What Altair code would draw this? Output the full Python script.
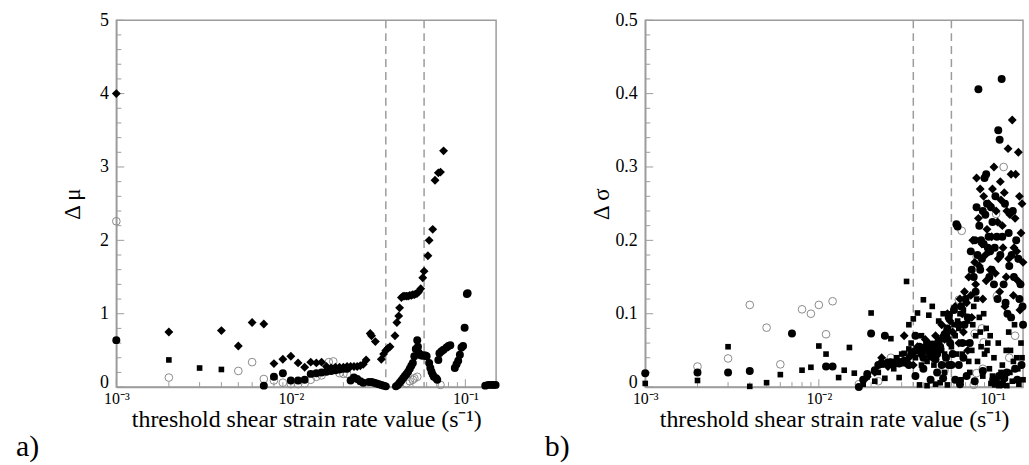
import altair as alt
import pandas as pd

# ---------------- panel a data (threshold, delta mu) ----------------
a_circ_x = [0.001, 0.007, 0.008, 0.009, 0.010, 0.011, 0.012, 0.013, 0.014, 0.015, 0.016, 0.017, 0.018, 0.019,
            0.020, 0.021, 0.022, 0.023, 0.024, 0.025, 0.026, 0.028, 0.029, 0.030, 0.031, 0.032, 0.033, 0.034,
            0.035, 0.040, 0.041, 0.042, 0.043, 0.044, 0.045, 0.046, 0.047, 0.048, 0.049, 0.050, 0.051, 0.052,
            0.053, 0.0535, 0.054, 0.055, 0.056, 0.057, 0.058, 0.059, 0.060, 0.062, 0.063, 0.064, 0.065, 0.066,
            0.068, 0.069, 0.070, 0.071, 0.073, 0.075, 0.078, 0.080, 0.082, 0.087, 0.089, 0.091, 0.093, 0.095,
            0.097, 0.099, 0.102, 0.103, 0.130, 0.135, 0.140, 0.145, 0.149]
a_circ_y = [0.64, 0.02, 0.14, 0.19, 0.09, 0.09, 0.10, 0.18, 0.19, 0.20, 0.21, 0.22, 0.23, 0.24,
            0.25, 0.25, 0.09, 0.13, 0.11, 0.08, 0.06, 0.07, 0.07, 0.06, 0.05, 0.04, 0.03, 0.02,
            0.01, 0.01, 0.03, 0.06, 0.09, 0.12, 0.15, 0.18, 0.21, 0.25, 0.29, 0.33, 0.42, 0.52,
            0.64, 0.55, 0.47, 0.44, 0.43, 0.43, 0.43, 0.43, 0.42, 0.33, 0.26, 0.21, 0.17, 0.14,
            0.12, 0.10, 0.37, 0.46, 0.49, 0.51, 0.54, 0.56, 0.57, 0.26, 0.31, 0.36, 0.44, 0.54,
            0.56, 0.81, 1.27, 1.28, 0.02, 0.03, 0.03, 0.03, 0.03]

a_diam_x = [0.001, 0.002, 0.004, 0.005, 0.006, 0.007, 0.008, 0.009, 0.010, 0.011, 0.012, 0.013, 0.014, 0.015,
            0.016, 0.017, 0.018, 0.019, 0.020, 0.021, 0.022, 0.023, 0.024, 0.025, 0.026, 0.027, 0.0285, 0.029,
            0.0305, 0.033, 0.034, 0.035, 0.036, 0.037, 0.0395, 0.0405, 0.0415, 0.042, 0.043, 0.044, 0.045,
            0.046, 0.047, 0.048, 0.049, 0.050, 0.051, 0.052, 0.053, 0.054, 0.0555, 0.057, 0.058, 0.061, 0.062,
            0.065, 0.067, 0.070, 0.072, 0.075]
a_diam_y = [4.00, 0.75, 0.77, 0.56, 0.88, 0.86, 0.32, 0.38, 0.42, 0.33, 0.27, 0.34, 0.33, 0.34,
            0.28, 0.26, 0.27, 0.27, 0.27, 0.28, 0.28, 0.28, 0.28, 0.29, 0.31, 0.37, 0.73, 0.70,
            0.62, 0.38, 0.45, 0.50, 0.53, 0.55, 0.70, 0.88, 0.97, 1.08, 1.22, 1.24, 1.24,
            1.24, 1.24, 1.25, 1.25, 1.26, 1.26, 1.27, 1.28, 1.30, 1.34, 1.49, 1.58, 1.79, 2.00,
            2.15, 2.82, 2.92, 2.93, 3.22]

a_sq_x = [0.002, 0.003, 0.004]
a_sq_y = [0.37, 0.26, 0.24]

a_open_x = [0.001, 0.002, 0.005, 0.006, 0.007, 0.008, 0.009, 0.010, 0.011, 0.012, 0.013, 0.014, 0.015,
            0.0165, 0.0175, 0.019, 0.020, 0.021, 0.046, 0.048, 0.050, 0.051, 0.053, 0.072]
a_open_y = [2.26, 0.13, 0.22, 0.34, 0.11, 0.09, 0.06, 0.04, 0.04, 0.05, 0.10, 0.14, 0.16,
            0.34, 0.35, 0.19, 0.18, 0.18, 0.05, 0.08, 0.10, 0.12, 0.14, 0.03]

# ---------------- panel b data (threshold, delta sigma) ----------------
b_sq_x = [0.001, 0.002, 0.003, 0.004, 0.005, 0.006, 0.008, 0.009, 0.010, 0.011, 0.013, 0.014, 0.015, 0.016,
          0.018, 0.019, 0.020, 0.021, 0.022, 0.023, 0.024, 0.025, 0.026, 0.027, 0.028, 0.029, 0.030, 0.031,
          0.032, 0.033, 0.034, 0.035, 0.036, 0.037, 0.038, 0.039, 0.040, 0.041, 0.042, 0.043, 0.044, 0.045,
          0.046, 0.047, 0.048, 0.049, 0.050, 0.051, 0.052, 0.053, 0.054, 0.055, 0.056, 0.057, 0.058, 0.060,
          0.062, 0.064, 0.066, 0.068, 0.070, 0.072, 0.074, 0.076, 0.078, 0.080, 0.082, 0.084, 0.086, 0.088,
          0.090, 0.092, 0.094, 0.096, 0.098, 0.100, 0.103, 0.106, 0.109, 0.112, 0.115, 0.118, 0.121, 0.124,
          0.127, 0.130, 0.134, 0.138, 0.142, 0.146, 0.150]
b_sq_y = [0.005, 0.009, 0.055, 0.001, 0.006, 0.017, 0.023, 0.027, 0.056, 0.045, 0.013, 0.023, 0.054, 0.019,
          0.004, 0.014, 0.101, 0.008, 0.020, 0.030, 0.012, 0.035, 0.066, 0.025, 0.040, 0.013, 0.032, 0.046,
          0.144, 0.085, 0.060, 0.093, 0.050, 0.101, 0.003, 0.070, 0.119, 0.055, 0.002, 0.098, 0.045, 0.110,
          0.030, 0.004, 0.060, 0.090, 0.006, 0.050, 0.100, 0.020, 0.075, 0.003, 0.065, 0.100, 0.030, 0.085,
          0.045, 0.080, 0.010, 0.105, 0.060, 0.090, 0.020, 0.050, 0.110, 0.070, 0.035, 0.095, 0.055, 0.015,
          0.045, 0.080, 0.060, 0.025, 0.005, 0.015, 0.003, 0.010, 0.002, 0.020, 0.005, 0.012, 0.002, 0.075,
          0.050, 0.008, 0.085, 0.040, 0.004, 0.060, 0.010]
b_sq2_x = [0.030, 0.033, 0.036, 0.039, 0.042, 0.045, 0.047, 0.050, 0.053, 0.055, 0.058, 0.061, 0.063, 0.065,
           0.067, 0.069, 0.073, 0.077, 0.081, 0.085, 0.089, 0.093, 0.097, 0.102, 0.108, 0.114, 0.120, 0.126,
           0.132, 0.140, 0.148]
b_sq2_y = [0.045, 0.052, 0.040, 0.030, 0.035, 0.055, 0.040, 0.065, 0.045, 0.070, 0.055, 0.070, 0.090, 0.100,
           0.045, 0.085, 0.035, 0.085, 0.120, 0.075, 0.100, 0.050, 0.070, 0.040, 0.060, 0.030, 0.050, 0.020,
           0.035, 0.025, 0.040]

b_circ_x = [0.001, 0.002, 0.003, 0.004, 0.007, 0.011, 0.012, 0.017, 0.018, 0.019, 0.020, 0.021, 0.022, 0.023,
            0.024, 0.025, 0.026, 0.027, 0.028, 0.029, 0.030, 0.031, 0.032, 0.033, 0.034, 0.035, 0.036, 0.037,
            0.038, 0.039, 0.040, 0.041, 0.042, 0.043, 0.044, 0.045, 0.046, 0.047, 0.048, 0.049, 0.050, 0.051,
            0.052, 0.053, 0.054, 0.055, 0.056, 0.057, 0.058, 0.060, 0.062, 0.063, 0.064, 0.066, 0.068, 0.070,
            0.072, 0.074, 0.076, 0.078, 0.080, 0.082, 0.083, 0.084, 0.086, 0.088, 0.090, 0.092, 0.094, 0.096,
            0.098, 0.100, 0.103, 0.106, 0.108, 0.110, 0.113, 0.116, 0.119, 0.122, 0.125, 0.128, 0.131, 0.135,
            0.139, 0.143, 0.147, 0.150, 0.101, 0.105, 0.109, 0.113, 0.117, 0.121, 0.061, 0.065, 0.071, 0.079,
            0.088]
b_circ_y = [0.019, 0.020, 0.020, 0.022, 0.073, 0.028, 0.028, 0.000, 0.010, 0.018, 0.073, 0.023, 0.030, 0.033,
            0.070, 0.033, 0.034, 0.033, 0.035, 0.032, 0.034, 0.036, 0.033, 0.030, 0.045, 0.048, 0.070, 0.050,
            0.055, 0.045, 0.040, 0.052, 0.060, 0.048, 0.042, 0.058, 0.050, 0.038, 0.045, 0.062, 0.055, 0.030,
            0.068, 0.072, 0.040, 0.080, 0.095, 0.060, 0.030, 0.105, 0.222, 0.219, 0.085, 0.110, 0.040, 0.120,
            0.095, 0.060, 0.160, 0.150, 0.130, 0.180, 0.406, 0.220, 0.200, 0.240, 0.285, 0.290, 0.190, 0.150,
            0.245, 0.225, 0.190, 0.205, 0.350, 0.337, 0.420, 0.140, 0.115, 0.100, 0.165, 0.095, 0.240, 0.025,
            0.010, 0.120, 0.030, 0.085, 0.010, 0.006, 0.015, 0.004, 0.012, 0.020, 0.010, 0.004, 0.015, 0.008,
            0.022]
b_circ2_x = [0.075, 0.079, 0.081, 0.085, 0.087, 0.089, 0.091, 0.093, 0.095, 0.097, 0.099, 0.102, 0.104, 0.107,
             0.111, 0.114, 0.118, 0.124, 0.129, 0.133, 0.137, 0.141, 0.145, 0.149, 0.036, 0.040, 0.044, 0.048,
             0.052, 0.056, 0.059, 0.064, 0.067, 0.069]
b_circ2_y = [0.185, 0.200, 0.245, 0.160, 0.175, 0.195, 0.235, 0.250, 0.205, 0.185, 0.160, 0.140, 0.260, 0.120,
             0.180, 0.205, 0.250, 0.210, 0.180, 0.150, 0.200, 0.175, 0.140, 0.110, 0.015, 0.025, 0.010, 0.020,
             0.012, 0.030, 0.045, 0.030, 0.060, 0.085]

b_diam_x = [0.019, 0.021, 0.023, 0.025, 0.027, 0.029, 0.031, 0.033, 0.035, 0.037, 0.039, 0.041, 0.043, 0.045,
            0.047, 0.049, 0.051, 0.053, 0.055, 0.057, 0.059, 0.061, 0.063, 0.065, 0.067, 0.069, 0.071, 0.073,
            0.075, 0.077, 0.079, 0.081, 0.083, 0.085, 0.087, 0.089, 0.091, 0.093, 0.095, 0.097, 0.099, 0.102,
            0.105, 0.108, 0.111, 0.114, 0.117, 0.120, 0.123, 0.126, 0.130, 0.133, 0.136, 0.140, 0.143, 0.146,
            0.150]
b_diam_y = [0.014, 0.020, 0.040, 0.028, 0.030, 0.035, 0.070, 0.040, 0.030, 0.055, 0.048, 0.065, 0.058, 0.040,
            0.070, 0.055, 0.085, 0.065, 0.100, 0.090, 0.075, 0.110, 0.085, 0.120, 0.100, 0.130, 0.115, 0.150,
            0.125, 0.200, 0.170, 0.285, 0.230, 0.270, 0.195, 0.260, 0.180, 0.215, 0.250, 0.160, 0.205, 0.300,
            0.240, 0.175, 0.280, 0.220, 0.265, 0.150, 0.325, 0.235, 0.364, 0.190, 0.290, 0.145, 0.260, 0.210,
            0.170]
b_diam2_x = [0.076, 0.080, 0.084, 0.088, 0.092, 0.096, 0.100, 0.104, 0.107, 0.110, 0.112, 0.115, 0.118, 0.121,
             0.124, 0.128, 0.132, 0.135, 0.138, 0.141, 0.144, 0.148, 0.064, 0.068, 0.072]
b_diam2_y = [0.095, 0.140, 0.165, 0.120, 0.145, 0.185, 0.270, 0.155, 0.225, 0.130, 0.255, 0.190, 0.110, 0.240,
             0.175, 0.290, 0.125, 0.230, 0.185, 0.320, 0.105, 0.250, 0.060, 0.075, 0.050]

b_open_x = [0.002, 0.003, 0.004, 0.005, 0.006, 0.008, 0.009, 0.010, 0.011, 0.012, 0.017, 0.022, 0.026, 0.053,
            0.058, 0.064, 0.0665, 0.078, 0.079, 0.081, 0.081, 0.087, 0.088, 0.089, 0.105, 0.106, 0.116, 0.125,
            0.135]
b_open_y = [0.028, 0.039, 0.112, 0.081, 0.031, 0.106, 0.100, 0.112, 0.072, 0.117, 0.004, 0.008, 0.040, 0.023,
            0.073, 0.119, 0.213, 0.003, 0.073, 0.019, 0.178, 0.080, 0.025, 0.061, 0.236, 0.124, 0.300, 0.040,
            0.070]

x_major = [0.001, 0.01, 0.1]
x_minor = [0.002, 0.003, 0.004, 0.005, 0.006, 0.007, 0.008, 0.009,
           0.02, 0.03, 0.04, 0.05, 0.06, 0.07, 0.08, 0.09]
dash_x = [0.035, 0.058]

a_y_major = [0, 1, 2, 3, 4, 5]
a_y_minor = [0.2, 0.4, 0.6, 0.8, 1.2, 1.4, 1.6, 1.8, 2.2, 2.4, 2.6, 2.8, 3.2, 3.4, 3.6, 3.8, 4.2, 4.4, 4.6, 4.8]
b_y_major = [0, 0.1, 0.2, 0.3, 0.4, 0.5]
b_y_minor = [0.02, 0.04, 0.06, 0.08, 0.12, 0.14, 0.16, 0.18, 0.22, 0.24, 0.26, 0.28,
             0.32, 0.34, 0.36, 0.38, 0.42, 0.44, 0.46, 0.48]

# ---------------- styling ----------------
H = 369
FONT = "Liberation Serif"
GRAY = "#9c9c9c"
XLABEL = "threshold shear strain rate value (s\u207b\u00b9)"


def make_panel(width, ymax, ytitle, yfmt, series, y_major, y_minor, tag):
    xs = alt.Scale(type="log", domain=[0.001, 0.15], nice=False)
    ys = alt.Scale(domain=[0, ymax], nice=False, zero=True)
    xaxis = alt.Axis(values=x_major, ticks=False, tickSize=0, grid=False, labelFlush=False,
                     labelExpr="datum.value < 0.005 ? '10\u207b\u00b3' : (datum.value < 0.05 ? '10\u207b\u00b2' : '10\u207b\u00b9')",
                     labelFontSize=16, labelPadding=4, title=XLABEL, titleFontSize=24,
                     titleY=40, titleBaseline="alphabetic")
    yaxis = alt.Axis(values=y_major, ticks=False, tickSize=0, grid=False, labelFlush=False,
                     labelExpr=yfmt, labelPadding=8, title=ytitle, titleX=-44, titleY=H / 2,
                     titleBaseline="middle", titleAngle=270,
                     labelOffset={"condition": {"test": "datum.value == 0", "value": -5}, "value": 0})

    layers = []
    for xv, yv, kind in series:
        df = pd.DataFrame({"x": xv, "y": yv})
        base = alt.Chart(df)
        if kind == "circle":
            m = base.mark_point(shape="circle", filled=True, color="black", size=64, opacity=1)
        elif kind == "diamond":
            m = base.mark_point(shape="diamond", filled=True, color="black", size=80, opacity=1)
        elif kind == "square":
            m = base.mark_point(shape="square", filled=True, color="black", size=32, opacity=1)
        else:
            m = base.mark_point(shape="circle", filled=False, color="#8a8a8a", size=60,
                                strokeWidth=1, opacity=1)
        layers.append(m.encode(x=alt.X("x:Q", scale=xs, axis=xaxis),
                               y=alt.Y("y:Q", scale=ys, axis=yaxis)))

    dash = alt.Chart(pd.DataFrame({"x": dash_x})).mark_rule(
        color=GRAY, strokeDash=[8, 5], strokeWidth=1.5).encode(
        x=alt.X("x:Q", scale=xs, axis=xaxis), y=alt.value(0), y2=alt.value(H))

    xt_major = alt.Chart(pd.DataFrame({"x": x_major})).mark_rule(color=GRAY, strokeWidth=1).encode(
        x=alt.X("x:Q", scale=xs, axis=xaxis), y=alt.value(H), y2=alt.value(H - 8))
    xt_minor = alt.Chart(pd.DataFrame({"x": x_minor})).mark_rule(color=GRAY, strokeWidth=1).encode(
        x=alt.X("x:Q", scale=xs, axis=xaxis), y=alt.value(H), y2=alt.value(H - 5))
    yt_major = alt.Chart(pd.DataFrame({"y": y_major})).mark_rule(color=GRAY, strokeWidth=1).encode(
        y=alt.Y("y:Q", scale=ys, axis=yaxis), x=alt.value(0), x2=alt.value(8))
    yt_minor = alt.Chart(pd.DataFrame({"y": y_minor})).mark_rule(color=GRAY, strokeWidth=1).encode(
        y=alt.Y("y:Q", scale=ys, axis=yaxis), x=alt.value(0), x2=alt.value(5))

    label = alt.Chart(pd.DataFrame({"t": [tag]})).mark_text(
        align="left", baseline="middle", font=FONT, fontSize=30, color="black").encode(
        x=alt.value(-101), y=alt.value(429), text="t:N")

    return alt.layer(xt_major, xt_minor, yt_major, yt_minor, dash, *layers, label).properties(
        width=width, height=H)


panel_a = make_panel(
    382, 5, "\u0394 \u03bc", "format(datum.value, 'd')",
    [(a_open_x, a_open_y, "open"), (a_sq_x, a_sq_y, "square"),
     (a_circ_x, a_circ_y, "circle"), (a_diam_x, a_diam_y, "diamond")],
    a_y_major, a_y_minor, "a)")

panel_b = make_panel(
    380, 0.5, "\u0394 \u03c3", "datum.value == 0 ? '0' : format(datum.value, '.1f')",
    [(b_open_x, b_open_y, "open"), (b_sq_x, b_sq_y, "square"), (b_sq2_x, b_sq2_y, "square"),
     (b_circ_x, b_circ_y, "circle"), (b_circ2_x, b_circ2_y, "circle"),
     (b_diam_x, b_diam_y, "diamond"), (b_diam2_x, b_diam2_y, "diamond")],
    b_y_major, b_y_minor, "b)")

chart = alt.hconcat(panel_a, panel_b, spacing=150, bounds="flush").properties(
    padding={"left": 15, "top": 9, "right": 0, "bottom": 0},
    background="white",
).configure_view(
    stroke=GRAY, strokeWidth=1.5
).configure_axis(
    labelFont=FONT, titleFont=FONT, labelFontSize=18, titleFontSize=23,
    titleFontWeight="normal", labelColor="black", titleColor="black",
    domainColor=GRAY, domainWidth=1.5, grid=False
)

chart.save("out.html", embed_options={"renderer": "svg", "actions": False})
